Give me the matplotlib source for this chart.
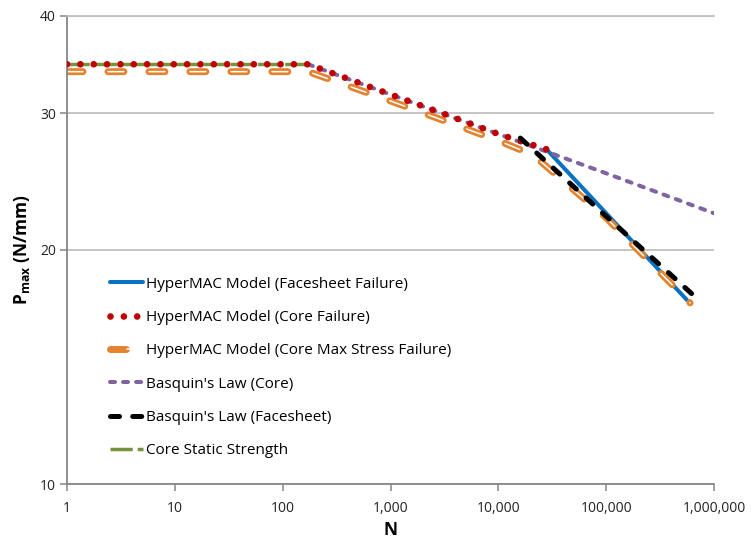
import matplotlib
matplotlib.use('Agg')
import matplotlib.pyplot as plt
from matplotlib.ticker import FixedLocator, NullLocator, FixedFormatter
from matplotlib.legend_handler import HandlerTuple

# ---------------- data ----------------
N_static = [1, 172]
P_static = [34.67, 34.67]

N_core = [1, 172, 500, 1000, 3000, 10000, 28000]
P_core = [34.67, 34.67, 32.85, 31.7, 30.0, 28.2, 26.95]

N_coremax = [1, 172, 1000, 10000, 21000, 100000, 600000]
P_coremax = [33.92, 33.92, 31.1, 27.65, 26.5, 22.0, 17.1]

N_face = [28000, 100000, 560000]
P_face = [26.95, 22.3, 17.25]

N_basq_core = [172, 1000, 10000, 100000, 1000000]
P_basq_core = [34.67, 31.7, 28.2, 25.1, 22.3]

N_basq_face = [16000, 100000, 720000]
P_basq_face = [27.86, 22.1, 17.25]

x_ticks = [1, 10, 100, 1000, 10000, 100000, 1000000]
x_tick_labels = ['1', '10', '100', '1,000', '10,000', '100,000', '1,000,000']
y_ticks = [10, 20, 30, 40]
y_tick_labels = ['10', '20', '30', '40']

labels = ['HyperMAC Model (Facesheet Failure)',
          'HyperMAC Model (Core Failure)',
          'HyperMAC Model (Core Max Stress Failure)',
          "Basquin's Law (Core)",
          "Basquin's Law (Facesheet)",
          'Core Static Strength']

# ---------------- style ----------------
plt.rcParams['font.family'] = ['Open Sans', 'DejaVu Sans']
plt.rcParams['lines.scale_dashes'] = False
plt.rcParams['mathtext.fontset'] = 'custom'
plt.rcParams['mathtext.rm'] = 'Open Sans'
plt.rcParams['mathtext.bf'] = 'Open Sans:bold'

fig = plt.figure(figsize=(7.53, 5.43), dpi=100)
ax = fig.add_axes([67 / 753, 59 / 543, (714 - 67) / 753, (484 - 16) / 543])
ax.set_xscale('log')
ax.set_yscale('log')
ax.set_xlim(1, 1e6)
ax.set_ylim(10, 40)

blue = '#0A72C0'
red = '#C00000'
orange = '#E3822F'
purple = '#8064A2'
green = '#77933C'

l_orange, = ax.plot(N_coremax, P_coremax, color=orange, lw=5.0,
                    linestyle=(0, (11.5, 18)), dash_capstyle='round', zorder=2)
l_white, = ax.plot(N_coremax, P_coremax, color='white', lw=1.1,
                   linestyle=(0, (11.5, 18)), dash_capstyle='round', zorder=2.1)
l_blue, = ax.plot(N_face, P_face, color=blue, lw=2.9, solid_capstyle='round', zorder=1.9)
l_purple, = ax.plot(N_basq_core, P_basq_core, color=purple, lw=2.9,
                    linestyle=(0, (3.6, 5.8)), dash_capstyle='round', zorder=3)
l_green, = ax.plot(N_static, P_static, color=green, lw=2.5,
                   linestyle=(0, (16, 3.6)), dash_capstyle='butt', zorder=3.1)
l_red, = ax.plot(N_core, P_core, color=red, lw=4.8,
                 linestyle=(0, (0.01, 9.6)), dash_capstyle='round', zorder=4)
l_black, = ax.plot(N_basq_face, P_basq_face, color='black', lw=3.6,
                   linestyle=(0, (6.5, 9.5)), dash_capstyle='round', zorder=5)

# axes styling
ax.xaxis.set_major_locator(FixedLocator(x_ticks))
ax.xaxis.set_major_formatter(FixedFormatter(x_tick_labels))
ax.xaxis.set_minor_locator(NullLocator())
ax.yaxis.set_major_locator(FixedLocator(y_ticks))
ax.yaxis.set_major_formatter(FixedFormatter(y_tick_labels))
ax.yaxis.set_minor_locator(NullLocator())

for s in ['left', 'bottom']:
    ax.spines[s].set_color('#868686')
    ax.spines[s].set_linewidth(1.3)
ax.spines['right'].set_visible(False)
ax.spines['top'].set_color('#BFBFBF')
ax.spines['top'].set_linewidth(1.3)

ax.yaxis.grid(True, color='#BFBFBF', lw=1.3)
ax.set_axisbelow(True)
ax.tick_params(axis='both', which='major', length=5, width=1.1, color='#868686',
               labelsize=10, labelcolor='#222222')
ax.tick_params(axis='x', pad=7)
ax.tick_params(axis='y', pad=3)

ax.set_xlabel('N', fontsize=12.5, fontweight='bold', labelpad=4)
ax.set_ylabel(r'$\mathbf{P_{max}}$ (N/mm)', fontsize=12.5, fontweight='bold', labelpad=6)

handles = [l_blue, l_red, (l_orange, l_white), l_purple, l_black, l_green]
ax.legend(handles, labels, handler_map={tuple: HandlerTuple(ndivide=None, pad=0)},
          loc='upper left', bbox_to_anchor=(0.0665, 0.443), frameon=False,
          fontsize=11, handlelength=2.16, handletextpad=0.2, labelspacing=1.2,
          borderpad=0, borderaxespad=0)

fig.savefig('out.png', dpi=100)
